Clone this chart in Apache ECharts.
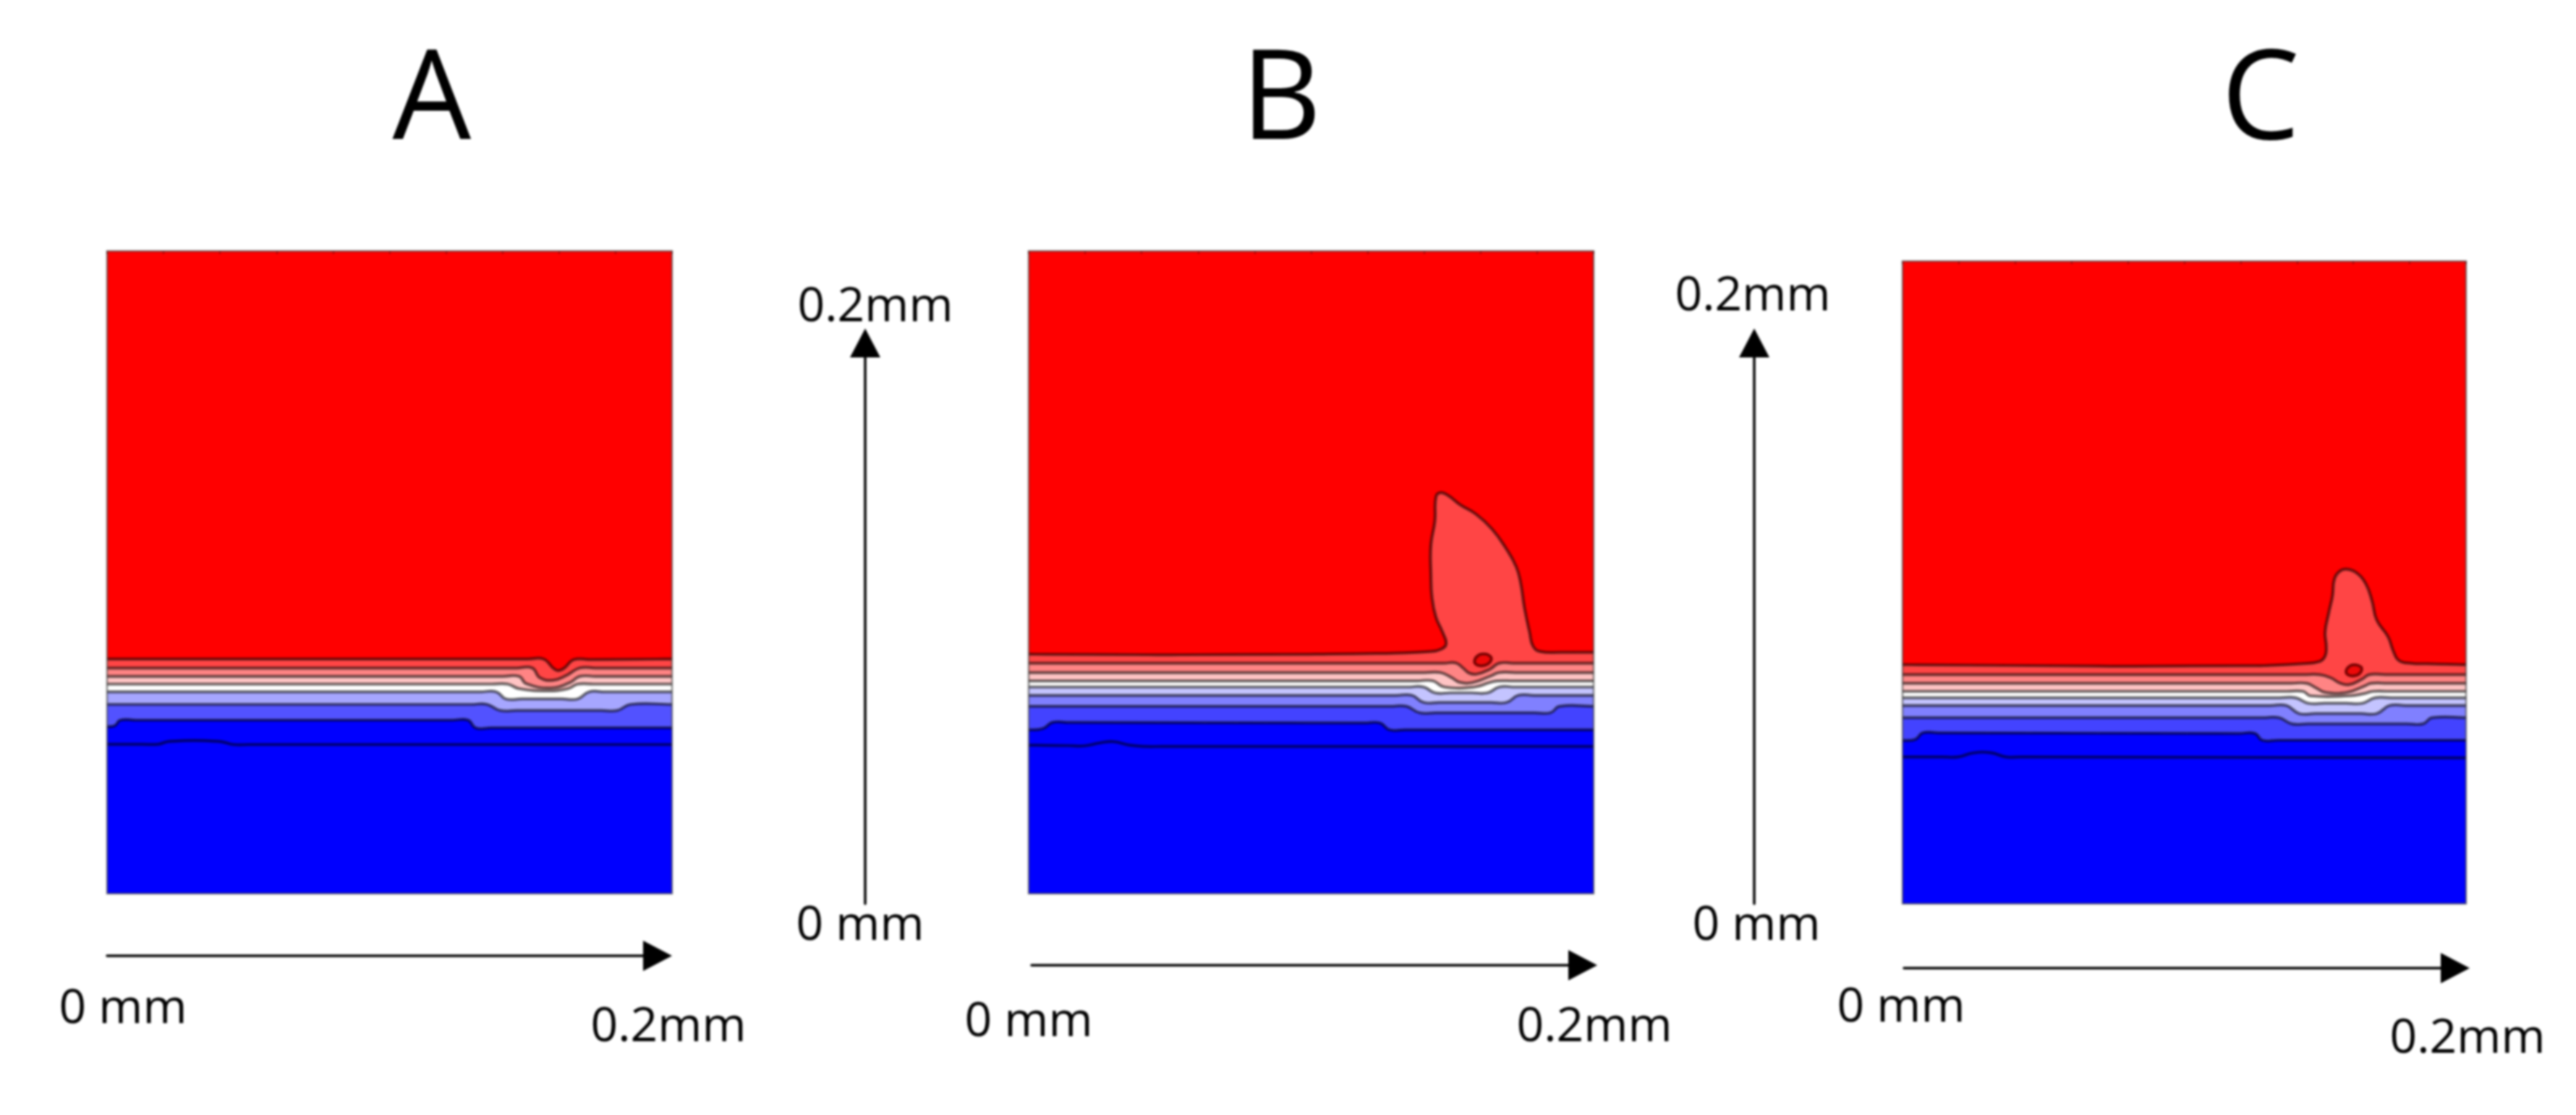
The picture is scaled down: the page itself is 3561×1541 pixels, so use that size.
<!DOCTYPE html>
<html>
<head>
<meta charset="utf-8">
<script src="https://cdn.jsdelivr.net/npm/echarts@6/dist/echarts.min.js"></script>
<style>
html,body{margin:0;padding:0;background:#fff}
#chart{width:3561px;height:1541px;filter:blur(1.5px)}
</style>
</head>
<body>
<div id="chart"></div>
<script>
// All contour values are micrometres (0.2 mm = 200): [x, depth]
const panelTitles = ['A', 'B', 'C'];
const startLabel = '0 mm';
const endLabel = '0.2mm';

const a1 = [[0,73],[154.5,73],[157.9,70.2],[159.6,69.4],[161.9,70.2],[165.2,72.8],[200,73]];
const a2 = [[0,70.2],[150.5,70.2],[153.2,67.2],[157.9,66.4],[162.6,67.9],[167.3,70.2],[200,70.2]];
const a3 = [[0,67.6],[145.8,67.6],[148.5,65.3],[157.2,64],[163.9,65.7],[167.3,67.6],[200,67.6]];
const a4 = [[0,65.2],[141.8,65.2],[145.8,63.8],[155.9,63.1],[163.2,63.8],[166.6,65.2],[200,65.2]];
const a5 = [[0,62.8],[137.8,62.8],[141.2,60.6],[166.6,60.6],[170.6,62.8],[200,62.8]];
const a6 = [[0,58.9],[134.5,58.9],[139.2,57],[180.6,57],[185.3,58.9],[200,58.9]];
const a7 = [[0,52],[2.7,52.3],[4.7,54],[127.8,54],[130.5,51.6],[200,51.6]];
const a8 = [[0,46.5],[18.1,46.5],[22.1,47.4],[39.5,47.4],[44.8,46.4],[200,46.4]];

const b1 = [[0,74.5],[48,74.3],[101.6,74.5],[128.4,74.8],[141.8,75.3],[145.8,76],[147.8,77.7],[146.5,81.4],[144.2,86],[142.8,92],[142.4,99.5],[142.4,108.5],[143.8,116],[144.2,123.5],[145.8,124.8],[148.5,123.9],[152.8,121],[158.5,118],[164,113.5],[168.8,107.7],[172.6,101.7],[174.2,96.5],[175.5,89],[177.3,81.4],[178.6,76.9],[181.3,75.3],[188.7,75.1],[200,75.1]];
const b2 = [[0,71.7],[147.1,71.7],[151.2,71.8],[153.8,70.2],[155.8,68.7],[158.5,68.3],[163.2,69.8],[166.6,71.7],[200,71.7]];
const b3 = [[0,68.8],[145.8,68.8],[149.8,67.2],[152.5,65.8],[157.2,65.7],[163.2,67.6],[166.6,68.8],[200,68.8]];
const b4 = [[0,66.2],[143.1,66.2],[147.1,64.3],[157.9,64.3],[163.2,65.7],[165.9,66.2],[200,66.2]];
const b5 = [[0,64.3],[139.8,64.3],[143.8,62.5],[162.5,62.5],[166.6,64.3],[200,64.3]];
const b6 = [[0,61.7],[135.7,61.7],[139.8,59.5],[169.2,59.5],[173.3,61.7],[200,61.7]];
const b7 = [[0,58.3],[133.7,58.3],[138.4,56.3],[184.7,56.3],[188,58.3],[200,58.3]];
const b8 = [[0,51],[5.1,51.4],[8.4,53.3],[124.4,53.1],[127.7,51],[200,51]];
const b9 = [[0,46.2],[19.8,46],[25.2,46.9],[29.9,47.3],[35.9,46.2],[41.3,45.8],[200,45.8]];
const bEye = [[157.8,72.3],[158.8,73.9],[161,74.6],[163.2,74],[163.8,72.9],[162.6,71.5],[160.4,70.9],[158.6,71.2]];

const c1 = [[0,74.4],[76,73.9],[128.4,74.1],[141.5,74.7],[148,75.4],[150,77.1],[150.4,80.1],[150,84.6],[151.3,90.6],[152.6,95.8],[153.3,101.1],[155.2,103.5],[157.9,104.1],[161.1,103],[164.4,99.6],[166.6,94.3],[168.3,88.3],[172.3,83.1],[174.2,78.6],[176.2,75.7],[180.8,74.8],[200,74.4]];
const c2 = [[0,71.3],[148,71.3],[152,70.3],[155.2,68.7],[158.5,68.2],[163.1,69.9],[165.7,71.3],[200,71.3]];
const c3 = [[0,68.6],[143.4,68.6],[146.7,67.2],[150,65.8],[157.9,65.8],[163.8,67.7],[166.4,68.6],[200,68.6]];
const c4 = [[0,66.1],[142.1,66.1],[144.8,64.7],[158.5,64.7],[163.8,65.4],[167,66.1],[200,66.1]];
const c5 = [[0,64.1],[139.5,64.1],[144.1,62.4],[163.1,62.4],[167.7,64.1],[200,64.1]];
const c6 = [[0,61.7],[136.2,61.7],[140.8,59.2],[168.3,59.2],[172.9,61.7],[200,61.7]];
const c7 = [[0,57.9],[133.6,57.9],[138.2,56],[184.7,56],[188,57.9],[200,57.9]];
const c8 = [[0,50.8],[4.6,51.2],[7.2,53.2],[125.1,53],[127.7,50.9],[200,50.9]];
const c9 = [[0,45.7],[19.7,45.7],[24.9,46.9],[31.4,47],[36.7,45.7],[200,45.4]];
const cEye = [[157.4,72.2],[158.3,73.7],[160.4,74.4],[162.4,73.9],[163,72.9],[162,71.5],[160,70.9],[158.2,71.2]];

const panelBox = [[0,0],[0,200],[200,200],[200,0]];

const FONT = '"Open Sans"';
const LINE = 'rgba(0,0,0,0.55)';
const GRIDS = [
  {left:148,  top:347, width:781, height:888},
  {left:1422, top:347, width:781, height:888},
  {left:2630, top:361, width:779, height:888}
];
const panels = [
  {levels:[[a8,'#0000ff'],[a7,'#5252ff'],[a6,'#a6a6ff'],[a5,'#ffffff'],[a4,'#ffc4c4'],[a3,'#ff8484'],[a2,'#ff4545'],[a1,'#ff0000']], eye:null},
  {levels:[[b9,'#0000ff'],[b8,'#4343ff'],[b7,'#8080ff'],[b6,'#c4c4ff'],[b5,'#ffffff'],[b4,'#ffc4c4'],[b3,'#ff8484'],[b2,'#ff4545'],[b1,'#ff0000']], eye:bEye},
  {levels:[[c9,'#0000ff'],[c8,'#4343ff'],[c7,'#8080ff'],[c6,'#c4c4ff'],[c5,'#ffffff'],[c4,'#ffc4c4'],[c3,'#ff8484'],[c2,'#ff4545'],[c1,'#ff0000']], eye:cEye}
];

// Keeps long straight runs straight when the renderer rounds the bends
function pinLongRuns(px){
  const out = [];
  for(let i=0;i<px.length;i++){
    const p = px[i];
    out.push(p);
    const q = px[i+1];
    if(!q) break;
    const dx=q[0]-p[0], dy=q[1]-p[1], len=Math.hypot(dx,dy);
    if(len>70){
      const t=22/len;
      out.push([p[0]+dx*t,p[1]+dy*t]);
      out.push([q[0]-dx*t,q[1]-dy*t]);
    }
  }
  return out;
}

const series = [];
function levelSeries(axisIdx, pts, fill, z){
  series.push({
    type:'custom', coordinateSystem:'cartesian2d', xAxisIndex:axisIdx, yAxisIndex:axisIdx,
    silent:true, z:z, clip:true, data:pts, encode:{x:0,y:1},
    renderItem(params, api){
      if(params.dataIndex !== 0) return;
      const line = pts.map(p => api.coord(p));
      const first = line[0], last = line[line.length-1];
      const extended = [[first[0]-30, first[1]]].concat(line, [[last[0]+30, last[1]]]);
      const tl = api.coord([0,200]), tr = api.coord([200,200]);
      const closure = [[tr[0]+90, last[1]],[tr[0]+90, tr[1]-90],[tl[0]-90, tl[1]-90],[tl[0]-90, first[1]]];
      const curve = pinLongRuns(extended);
      const poly = pinLongRuns(extended.concat(closure));
      return {type:'group', children:[
        {type:'polygon', shape:{points:poly, smooth:0.45}, style:{fill:fill, stroke:null}},
        {type:'polyline', shape:{points:curve, smooth:0.45},
          style:{fill:null, stroke:LINE, lineWidth:4.2, lineJoin:'round'}}
      ]};
    }
  });
}
function eyeSeries(axisIdx, pts, z){
  series.push({
    type:'custom', coordinateSystem:'cartesian2d', xAxisIndex:axisIdx, yAxisIndex:axisIdx,
    silent:true, z:z, data:pts, encode:{x:0,y:1},
    renderItem(params, api){
      if(params.dataIndex !== 0) return;
      return {type:'polygon', shape:{points:pts.map(p=>api.coord(p)), smooth:0.5},
        style:{fill:'#ee0808', stroke:'rgba(110,0,0,0.9)', lineWidth:4}};
    }
  });
}
function boxSeries(axisIdx, fill, stroke, z){
  series.push({
    type:'custom', coordinateSystem:'cartesian2d', xAxisIndex:axisIdx, yAxisIndex:axisIdx,
    silent:true, z:z, data:panelBox, encode:{x:0,y:1},
    renderItem(params, api){
      if(params.dataIndex !== 0) return;
      return {type:'polygon', shape:{points:panelBox.map(p=>api.coord(p))},
        style:{fill:fill, stroke:stroke, lineWidth:2.5}};
    }
  });
}
panels.forEach((p,i)=>{
  boxSeries(i, '#0000ff', null, 2);               // deepest region
  p.levels.forEach((lv,k)=>levelSeries(i, lv[0], lv[1], 3+k*0.01));
  if(p.eye) eyeSeries(i, p.eye, 4);
  boxSeries(i, null, 'rgba(60,60,60,0.6)', 6);    // frame
});

const grids = GRIDS.map(g=>({left:g.left, top:g.top, width:g.width, height:g.height, show:false}));
const xAxes = GRIDS.map((g,i)=>({
  type:'value', gridIndex:i, min:0, max:200, interval:20, position:'top',
  axisLine:{show:false, onZero:false}, splitLine:{show:false}, axisLabel:{show:false},
  axisTick:{show:true, inside:true, length:4, lineStyle:{color:'rgba(60,0,0,0.4)', width:2}}, z:8
}));
const yAxes = GRIDS.map((g,i)=>({
  type:'value', gridIndex:i, min:0, max:200, interval:25, position:'left',
  axisLine:{show:false, onZero:false}, splitLine:{show:false}, axisLabel:{show:false},
  axisTick:{show:false}, z:8
}));

// Scale arrows are real axes in their own thin grids
const hArrows = [{l:148,w:761,t:1321},{l:1426,w:762,t:1334},{l:2632,w:762,t:1338}];
const vArrows = [{l:1196,t:474,h:775},{l:2425,t:474,h:775}];
hArrows.forEach(a=>{
  const idx = grids.length;
  grids.push({left:a.l, top:a.t-1, width:a.w, height:1, show:false});
  xAxes.push({type:'value', gridIndex:idx, min:0, max:0.2, position:'bottom',
    axisLine:{show:true, onZero:false, lineStyle:{color:'#000', width:3.5}, symbol:['none','triangle'], symbolSize:[42,40]},
    axisTick:{show:false}, axisLabel:{show:false}, splitLine:{show:false}});
  yAxes.push({type:'value', gridIndex:idx, min:0, max:1, show:false});
});
vArrows.forEach(a=>{
  const idx = grids.length;
  grids.push({left:a.l, top:a.t, width:1, height:a.h, show:false});
  xAxes.push({type:'value', gridIndex:idx, min:0, max:1, show:false});
  yAxes.push({type:'value', gridIndex:idx, min:0, max:0.2, position:'left',
    axisLine:{show:true, onZero:false, lineStyle:{color:'#000', width:3.5}, symbol:['none','triangle'], symbolSize:[42,40]},
    axisTick:{show:false}, axisLabel:{show:false}, splitLine:{show:false}});
});

function txt(s, x, y, size){
  return {type:'text', x:x, y:y, z:20, style:{text:s, x:0, y:0, align:'center', verticalAlign:'middle',
    fill:'#000', font:`${size}px ${FONT}`}};
}
const graphics = [
  txt(panelTitles[0], 597, 143, 172), txt(panelTitles[1], 1771, 143, 172), txt(panelTitles[2], 3125, 143, 172),
  txt(startLabel, 170, 1395, 66), txt(endLabel, 924, 1420, 66),
  txt(startLabel, 1422, 1413, 66), txt(endLabel, 2204, 1420, 66),
  txt(startLabel, 2628, 1393, 66), txt(endLabel, 3411, 1436, 66),
  txt(endLabel, 1210, 425, 66), txt(startLabel, 1189, 1280, 66),
  txt(endLabel, 2423, 410, 66), txt(startLabel, 2428, 1280, 66)
];

const chart = echarts.init(document.getElementById('chart'), null, {renderer:'canvas'});
chart.setOption({
  animation:false, backgroundColor:'#fff', tooltip:{show:false},
  grid:grids, xAxis:xAxes, yAxis:yAxes, series:series, graphic:graphics
});
</script>
</body>
</html>
